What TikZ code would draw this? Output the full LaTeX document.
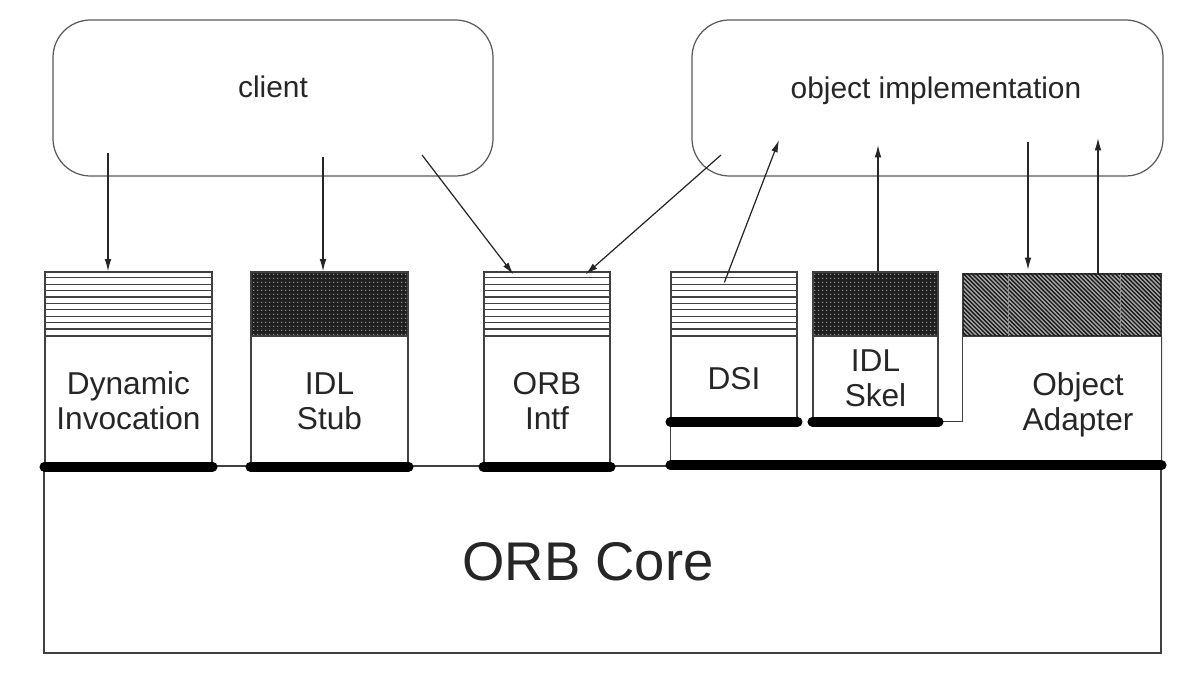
\documentclass[tikz,border=0pt]{standalone}
\usepackage{fontspec}
\setmainfont{Liberation Sans}
\usetikzlibrary{calc, fit, positioning, patterns, arrows.meta}

\pgfdeclarepatternformonly{finedots}{\pgfpointorigin}{\pgfqpoint{2.4pt}{2.4pt}}{\pgfqpoint{2.4pt}{2.4pt}}%
  {\pgfpathcircle{\pgfqpoint{1.2pt}{1.2pt}}{0.45pt}\pgfusepath{fill}}
\pgfdeclarepatternformonly{finehatch}{\pgfqpoint{-1pt}{-1pt}}{\pgfqpoint{3.4pt}{3.4pt}}{\pgfqpoint{2.4pt}{2.4pt}}%
  {\pgfsetlinewidth{0.75pt}\pgfpathmoveto{\pgfqpoint{0pt}{2.4pt}}\pgfpathlineto{\pgfqpoint{2.5pt}{-0.1pt}}\pgfusepath{stroke}}

\begin{document}
\begin{tikzpicture}
		[x=0.02cm, y=-0.02cm,
		line width=0.7pt,
		rbox/.style = {draw=black!65, rounded corners=0.75cm, inner sep=0pt},
		body/.style = {draw=black!75, inner sep=0pt},
		stripes/.style = {draw=black!75, inner sep=0pt},
		dotcap/.style = {draw=black!75, inner sep=0pt, fill=black!88, postaction={pattern=finedots, pattern color=white!70!black}},
		hatchcap/.style = {draw=black!75, inner sep=0pt, fill=black!35, postaction={pattern=finehatch, pattern color=black!90}},
		edge/.style = {draw=black!75},
		bar/.style = {line width=5.6pt, line cap=round},
		arr/.style = {draw=black!85, -{Latex[length=7pt,width=3.8pt]}},
		txt/.style = {font=\fontsize{17}{20}\selectfont, align=center, inner sep=0pt, text=black!85},
		label/.style = {txt, font=\fontsize{18}{20}\selectfont}]
		
		\useasboundingbox (0,0) rectangle (1179,685);
		
		% upper boxes
		\node[rbox, fit={(53,20) (493,176)}] (client) {};
		\node[txt] (clienttext) at (273,87) {client};
		\node[rbox, fit={(692,20) (1163,176)}] (impl) {};
		\node[txt] (impltext) at (936,91) {object implementation};
		
		% ORB core
		\node[body, fit={(44,466) (1161,653)}] (core) {};
		\node[txt, font=\fontsize{31}{36}\selectfont] (coretext) at (588,562) {ORB Core};
		
		% components
		\node[stripes, fit={(45,272) (212,336)}] (dyncap) {};
		\node[body, fit={(45,336) (212,466)}] (dynbody) {};
		\node[dotcap, fit={(251,272) (408,336)}] (stubcap) {};
		\node[body, fit={(251,336) (408,466)}] (stubbody) {};
		\node[stripes, fit={(484,272) (610,336)}] (intfcap) {};
		\node[body, fit={(484,336) (610,466)}] (intfbody) {};
		\node[stripes, fit={(671,272) (797,336)}] (dsicap) {};
		\node[body, fit={(671,336) (797,421)}] (dsibody) {};
		\node[dotcap, fit={(813,272) (938,336)}] (skelcap) {};
		\node[body, fit={(813,336) (938,421)}] (skelbody) {};
		\node[hatchcap, fit={(963,274) (1161,336)}] (oacap) {};
		\node[inner sep=0pt, fit={(963,336) (1161,466)}] (oabody) {};
		
		\foreach \c in {dyncap, intfcap, dsicap}
		{
			\foreach \k in {1,...,9}
				\draw[edge, line width=0.6pt] ($(\c.north west)+(0,6.4*\k)$) -- ($(\c.north east)+(0,6.4*\k)$);
		}
		\foreach \x in {1008,1120}
			\draw[black!45, line width=0.5pt] (\x,274) -- (\x,336);
		
		\node[label] (dyntext) at (dynbody) {Dynamic\\Invocation};
		\node[label] (stubtext) at (stubbody) {IDL\\Stub};
		\node[label] (intftext) at (intfbody) {ORB\\Intf};
		\node[label] (dsitext) at (dsibody) {DSI};
		\node[label] (skeltext) at (skelbody) {IDL\\Skel};
		\node[label] (oatext) at ($(oabody)+(16,4)$) {Object\\Adapter};
		
		% outline of DSI and object adapter
		\draw[edge] (dsibody.south west) -- (dsibody.south west |- core.north);
		\draw[edge] (oacap.south west) -- (oacap.south west |- skelbody.south) -- (skelbody.south east);
		\draw[edge] (oacap.south east) -- (core.north east);
		
		% thick bars
		\draw[bar] (dynbody.south west) -- (dynbody.south east);
		\draw[bar] (stubbody.south west) -- (stubbody.south east);
		\draw[bar] (intfbody.south west) -- (intfbody.south east);
		\draw[bar] (dsibody.south west) -- (dsibody.south east);
		\draw[bar] (skelbody.south west) -- (skelbody.south east);
		\draw[bar] (core.north -| dsibody.west) -- (core.north east);
		
		% arrows
		\coordinate (c1) at (108,153);
		\coordinate (c2) at (323,157);
		\coordinate (c3) at (422,155);
		\coordinate (i1) at (721,155);
		\coordinate (i2) at (779,140);
		\coordinate (i3) at (878,145);
		\coordinate (i4) at (1028,142);
		\coordinate (i5) at (1098,138);
		
		\draw[arr] (c1) -- (c1 |- dyncap.north);
		\draw[arr] (c2) -- (c2 |- stubcap.north);
		\draw[arr] (c3) -- ($(intfcap.north west)+(30,3)$);
		\draw[arr] (i1) -- ($(intfcap.north east)+(-25,3)$);
		\draw[arr] ($(dsicap.north west)+(54,11)$) -- (i2);
		\draw[arr] (i3 |- skelcap.north) -- (i3);
		\draw[arr] (i4) -- ([yshift=2pt]i4 |- oacap.north);
		\draw[arr] (i5 |- oacap.north) -- (i5);
		
	\end{tikzpicture}
\end{document}
